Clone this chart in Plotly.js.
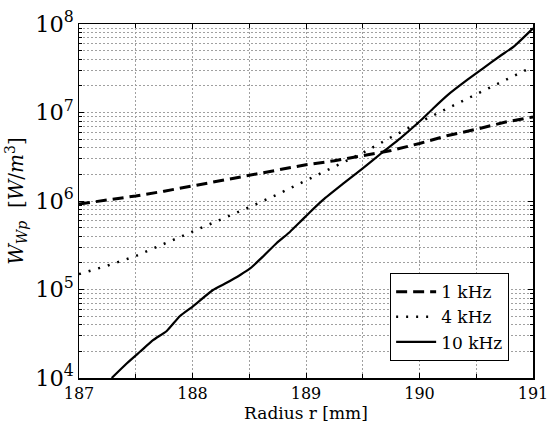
<!DOCTYPE html>
<html>
<head>
<meta charset="utf-8">
<script src="https://cdn.plot.ly/plotly-3.0.1.min.js"></script>
<style>html,body{margin:0;padding:0;background:#fff;}#chart{width:557px;height:429px;}</style>
</head>
<body>
<div id="chart"></div>
<script>
// 1 kHz (dashed)
const r1 = [187, 187.25, 187.5, 187.75, 188, 188.25, 188.5, 188.75, 189, 189.25, 189.5, 189.75, 190, 190.25, 190.5, 190.75, 191];
const w1 = [9.25e5, 1.02e6, 1.14e6, 1.29e6, 1.48e6, 1.68e6, 1.95e6, 2.24e6, 2.57e6, 2.85e6, 3.24e6, 3.72e6, 4.47e6, 5.5e6, 6.46e6, 7.76e6, 8.9e6];
// 4 kHz (dotted)
const r4 = [187, 187.25, 187.5, 187.75, 188, 188.25, 188.5, 188.75, 189, 189.25, 189.5, 189.75, 190, 190.25, 190.5, 190.75, 191];
const w4 = [1.49e5, 1.86e5, 2.39e5, 3.27e5, 4.5e5, 6.17e5, 8.5e5, 1.19e6, 1.70e6, 2.45e6, 3.5e6, 5.25e6, 7.76e6, 1.12e7, 1.6e7, 2.29e7, 3.3e7];
// 10 kHz (solid)
const r10 = [187.288, 187.42, 187.537, 187.655, 187.773, 187.89, 188.007, 188.18, 188.30, 188.42, 188.51, 188.62, 188.74, 188.86, 188.95, 189.03, 189.15, 189.33, 189.5, 189.68, 189.83, 190.0, 190.12, 190.25, 190.42, 190.56, 190.71, 190.83, 191.0];
const w10 = [1.0e4, 1.46e4, 1.98e4, 2.69e4, 3.4e4, 5.02e4, 6.5e4, 9.86e4, 1.19e5, 1.46e5, 1.74e5, 2.35e5, 3.33e5, 4.5e5, 5.83e5, 7.38e5, 1.03e6, 1.58e6, 2.34e6, 3.6e6, 5.1e6, 7.9e6, 1.11e7, 1.58e7, 2.33e7, 3.16e7, 4.35e7, 5.55e7, 8.93e7];
const names = ["1 kHz", "4 kHz", "10 kHz"];

const font = "DejaVu Serif";
const traces = [
  {x: r1, y: w1, name: names[0], mode: "lines", line: {color: "#000", width: 3, dash: "11px,6px"}},
  {x: r4, y: w4, name: names[1], mode: "lines", line: {color: "#000", width: 2.5, dash: "2px,8px"}},
  {x: r10, y: w10, name: names[2], mode: "lines", line: {color: "#000", width: 2.2, shape: "spline", smoothing: 0.5}}
];
const gridc = "#a0a0a0";
const gd = "2px,2px";
const layout = {
  width: 557, height: 429,
  margin: {l: 79, r: 24, t: 24, b: 51},
  paper_bgcolor: "#fff", plot_bgcolor: "#fff",
  font: {family: font, size: 16, color: "#000"},
  showlegend: true,
  legend: {x: 0.947, y: 0.048, xanchor: "right", yanchor: "bottom", bgcolor: "#fff",
    bordercolor: "#000", borderwidth: 1.2, font: {family: font, size: 17},
    tracegroupgap: 0, itemwidth: 40},
  xaxis: {
    range: [187, 191], dtick: 1, tick0: 187,
    showline: true, linecolor: "#000", linewidth: 1.5, mirror: "allticks",
    ticks: "inside", ticklen: 5, tickcolor: "#000",
    showgrid: true, gridcolor: gridc, griddash: gd, gridwidth: 1,
    minor: {dtick: 0.5, showgrid: true, gridcolor: gridc, griddash: gd, ticks: "inside", ticklen: 4, tickcolor: "#000"},
    zeroline: false,
    tickfont: {family: font, size: 16},
    title: {text: "Radius r [mm]", font: {family: font, size: 17}, standoff: 3}
  },
  yaxis: {
    type: "log", range: [4, 8], dtick: 1, exponentformat: "power",
    showline: true, linecolor: "#000", linewidth: 1.5, mirror: "allticks",
    ticks: "inside", ticklen: 5, tickcolor: "#000",
    showgrid: true, gridcolor: gridc, griddash: gd, gridwidth: 1,
    minor: {dtick: "D1", showgrid: true, gridcolor: gridc, griddash: gd, ticks: "inside", ticklen: 3, tickcolor: "#000"},
    zeroline: false,
    tickfont: {family: font, size: 18},
    title: {text: "<i>W</i><sub><i>Wp</i></sub>  [<i>W</i>/<i>m</i><sup>3</sup>]", font: {family: font, size: 20}, standoff: 6}
  }
};
Plotly.newPlot("chart", traces, layout, {displayModeBar: false, staticPlot: true});
</script>
</body>
</html>
